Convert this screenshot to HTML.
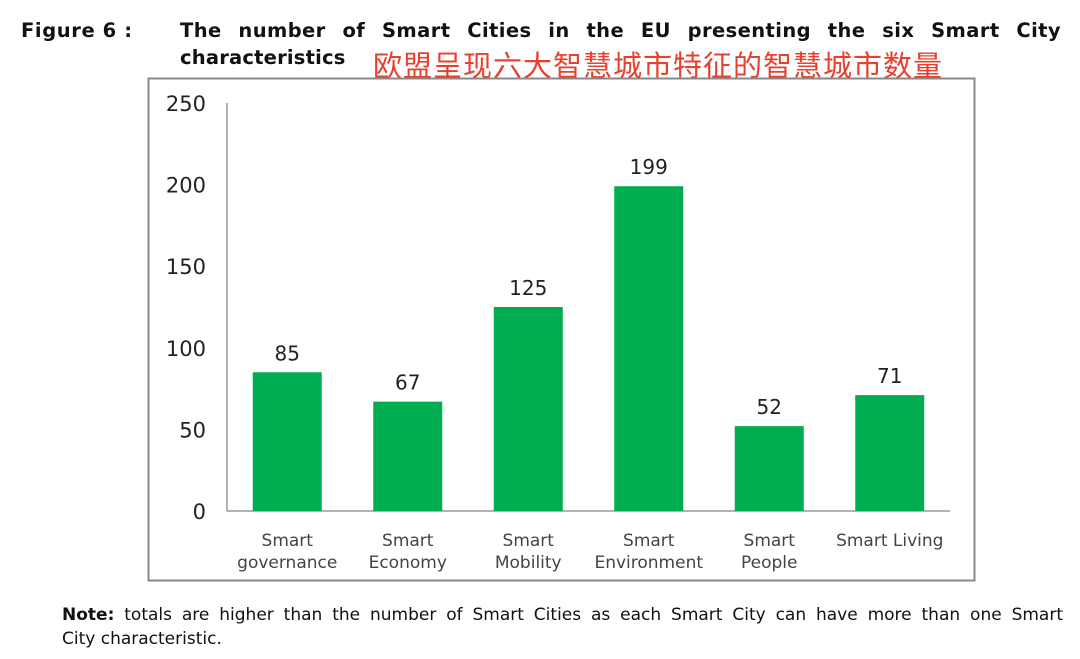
<!DOCTYPE html>
<html><head><meta charset="utf-8"><style>
body{margin:0;width:1080px;height:659px;background:#fff;overflow:hidden;position:relative;font-family:"DejaVu Sans","Liberation Sans",sans-serif;color:#111}
.t{position:absolute;white-space:nowrap}
.j{text-align:justify;text-align-last:justify;white-space:normal}
</style></head><body>
<div class="t" style="left:21px;top:19px;font-weight:bold;font-size:19.5px;font-family:'DejaVu Sans',sans-serif;letter-spacing:0.6px">Figure 6 :</div>
<div class="t j" style="left:180px;top:19px;width:881px;font-weight:bold;font-size:19.5px;font-family:'DejaVu Sans',sans-serif;letter-spacing:0.4px">The number of Smart Cities in the EU presenting the six Smart City</div>
<div class="t" style="left:180px;top:46px;font-weight:bold;font-size:19.5px;font-family:'DejaVu Sans',sans-serif;letter-spacing:0.2px">characteristics</div>
<div class="t" style="left:373px;top:43px;font-size:29px;color:#e8402e;font-family:'Liberation Sans','Noto Sans CJK SC',sans-serif;letter-spacing:1px">欧盟呈现六大智慧城市特征的智慧城市数量</div>
<svg id="chart" width="1080" height="659" style="position:absolute;left:0;top:0">
<rect x="148.5" y="78.5" width="826" height="502" fill="#fff" stroke="#888" stroke-width="2"/>
</svg>
<div class="t j" style="left:62px;top:605px;width:1001px;font-size:17px;font-family:'DejaVu Sans',sans-serif"><b>Note:</b> totals are higher than the number of Smart Cities as each Smart City can have more than one Smart</div>
<div class="t" style="left:62px;top:629px;font-size:17px;font-family:'DejaVu Sans',sans-serif">City characteristic.</div>
<script>
const categories=[["Smart","governance"],["Smart","Economy"],["Smart","Mobility"],["Smart","Environment"],["Smart","People"],["Smart Living"]];
const values=[85,67,125,199,52,71];
const yTicks=[0,50,100,150,200,250];
const svg=document.getElementById('chart');
const NS='http://www.w3.org/2000/svg';
const x0=227,x1=950,y0=511,yTop=103,yMax=250;
const band=(x1-x0)/categories.length;
function yScale(v){return y0-(v/yMax)*(y0-yTop);}
function xCenter(i){return x0+band*(i+0.5);}
function mk(tag,attrs,text){const e=document.createElementNS(NS,tag);for(const k in attrs)e.setAttribute(k,attrs[k]);if(text!==undefined)e.textContent=text;svg.appendChild(e);return e;}
let ax=mk('line',{x1:x0,y1:yTop,x2:x0,y2:y0,stroke:'#999','stroke-width':1.5});


let bx=mk('line',{x1:x0,y1:y0,x2:x1,y2:y0,stroke:'#999','stroke-width':1.5});


yTicks.forEach(v=>{
  const t=mk('text',{x:206,y:yScale(v)+8,'text-anchor':'end','font-size':21,'font-family':'DejaVu Sans,sans-serif',fill:'#222'},String(v));
  
  
});
values.forEach((v,i)=>{
  const w=69,cx=xCenter(i);
  const r=mk('rect',{x:cx-w/2,y:yScale(v),width:w,height:y0-yScale(v),fill:'#00ad50'});
  
  
  const l=mk('text',{x:cx,y:yScale(v)-12,'text-anchor':'middle','font-size':20,'font-family':'DejaVu Sans,sans-serif',fill:'#222'},String(v));
  
  
  categories[i].forEach((s,j)=>{
    const c=mk('text',{x:cx,y:546+j*22,'text-anchor':'middle','font-size':17,'font-family':'DejaVu Sans,sans-serif',fill:'#444'},s);
    
    
  });
});
</script>
</body></html>
